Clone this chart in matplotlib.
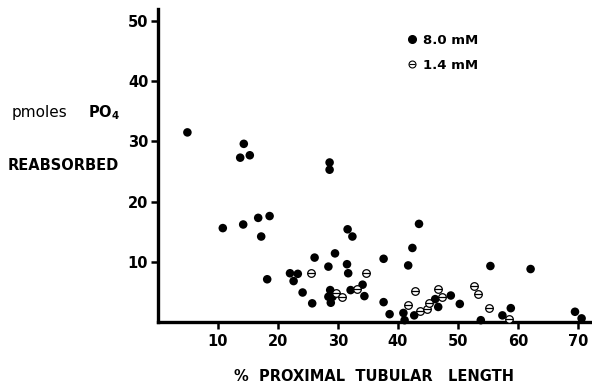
import matplotlib
matplotlib.use('Agg')
import matplotlib.pyplot as plt
from matplotlib.lines import Line2D
from matplotlib.legend_handler import HandlerTuple

plt.rcParams['font.family'] = 'DejaVu Sans'
plt.rcParams['font.weight'] = 'bold'

# 8.0 mM (filled)
x_hi = [4.9, 14.3, 13.7, 15.3, 28.6, 28.6, 10.8, 14.2, 16.7, 18.6, 17.2, 31.6, 32.4,
        29.5, 26.1, 28.4, 31.5, 31.7, 18.2, 22.0, 23.3, 22.6, 24.1, 25.7, 28.7, 28.4,
        29.1, 28.8, 32.1, 34.1, 34.4, 43.5, 42.4, 37.6, 41.7, 37.6, 38.6, 40.9, 41.1,
        42.7, 46.2, 46.7, 48.8, 50.3, 53.8, 55.4, 62.1, 57.4, 58.8, 69.5, 70.6]
y_hi = [31.5, 29.6, 27.3, 27.7, 26.5, 25.3, 15.6, 16.2, 17.3, 17.6, 14.2, 15.4, 14.2,
        11.4, 10.7, 9.2, 9.6, 8.1, 7.1, 8.1, 8.0, 6.8, 4.9, 3.1, 5.3, 4.2,
        4.2, 3.2, 5.3, 6.2, 4.3, 16.3, 12.3, 10.5, 9.4, 3.3, 1.3, 1.5, 0.3,
        1.1, 3.8, 2.5, 4.4, 3.0, 0.3, 9.3, 8.8, 1.1, 2.3, 1.7, 0.6]

# 1.4 mM (open)
x_lo = [25.5, 29.6, 30.7, 33.2, 34.6, 42.8, 41.7, 43.7, 44.9, 45.1, 46.6, 47.4,
        52.7, 53.3, 55.1, 58.5]
y_lo = [8.1, 4.9, 4.1, 5.5, 8.1, 5.1, 2.8, 1.9, 2.1, 3.1, 5.4, 4.2,
        5.9, 4.6, 2.3, 0.5]

xticks = [10, 20, 30, 40, 50, 60, 70]
yticks = [10, 20, 30, 40, 50]

fig = plt.figure(figsize=(5.92, 3.90), dpi=100)
ax = fig.add_axes([158/592, 68/390, 432/592, 313/390])

ax.scatter(x_hi, y_hi, s=38, c='black', edgecolors='none', clip_on=False, zorder=3)
ax.scatter(x_lo, y_lo, s=30, facecolors='white', edgecolors='black', linewidths=0.9,
           clip_on=False, zorder=4)
ax.scatter(x_lo, y_lo, s=30, marker='_', c='black', linewidths=0.9, clip_on=False, zorder=5)

ax.set_xlim(0, 72)
ax.set_ylim(0, 52)
ax.set_xticks(xticks)
ax.set_yticks(yticks)
ax.tick_params(axis='both', width=1.8, length=5, labelsize=10.5, direction='out')
ax.tick_params(axis='x', pad=4)
ax.tick_params(axis='y', pad=2)
for lbl in ax.get_xticklabels() + ax.get_yticklabels():
    lbl.set_fontweight('bold')

for s in ['top', 'right']:
    ax.spines[s].set_visible(False)
for s in ['left', 'bottom']:
    ax.spines[s].set_linewidth(2.4)

ax.set_xlabel('%  PROXIMAL  TUBULAR   LENGTH', fontsize=10.5, fontweight='bold', labelpad=14)

fig.text(12/592, 1 - 117/390, 'pmoles', fontsize=11,
         fontweight='normal', va='baseline', ha='left')
fig.text(88/592, 1 - 117/390, r'PO$_\mathbf{4}$', fontsize=10.5, fontweight='bold',
         va='baseline', ha='left')
fig.text(8/592, 1 - 165/390, 'REABSORBED', fontsize=10.5, fontweight='bold',
         va='center', ha='left')

h_hi = Line2D([], [], marker='o', ls='none', color='black', markersize=5.5)
h_lo_c = Line2D([], [], marker='o', ls='none', markerfacecolor='white',
                markeredgecolor='black', markeredgewidth=0.8, markersize=5)
h_lo_l = Line2D([], [], marker='_', ls='none', color='black', markeredgewidth=0.8,
                markersize=5)
leg = ax.legend([h_hi, (h_lo_c, h_lo_l)], ['8.0 mM', '1.4 mM'], loc='upper left',
                bbox_to_anchor=((395 - 158)/432, (322 - 22)/313), frameon=False,
                handlelength=0.8, handletextpad=0.4, labelspacing=0.9,
                handler_map={tuple: HandlerTuple(ndivide=1, pad=0)},
                prop={'weight': 'bold', 'size': 9.5})

fig.savefig('out.png', dpi=100)
